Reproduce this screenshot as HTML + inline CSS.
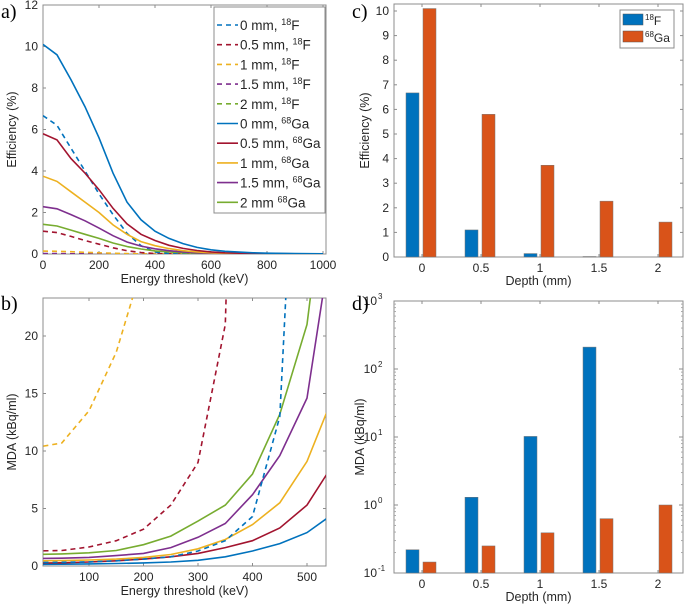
<!DOCTYPE html>
<html><head><meta charset="utf-8">
<style>
body{margin:0;background:#fff;}
svg{display:block;font-family:"Liberation Sans",Arial,sans-serif;}
.tk{font-size:12px;fill:#262626;}
.lbl{font-size:12.5px;fill:#262626;}
.pl{font-family:"Liberation Serif",serif;font-size:20px;fill:#000;}
</style></head>
<body>
<svg id="fig" width="685" height="609" viewBox="0 0 685 609"></svg>
<script>
// ---- Panel a data ----
const aX=[0,50,100,150,200,250,300,350,400,450,500,550,600,650,700,750,800,900,1000];
const aGa0=[10.1,9.6,8.4,7.1,5.6,3.9,2.5,1.65,1.1,0.75,0.5,0.32,0.2,0.13,0.09,0.06,0.04,0.02,0.01];
const aGa05=[5.8,5.5,4.6,3.9,3.1,2.2,1.45,0.95,0.65,0.42,0.27,0.17,0.1,0.06,0.04,0.03,0.02,0.01,0];
const aGa1=[3.75,3.5,3.0,2.5,2.0,1.4,0.95,0.6,0.4,0.26,0.16,0.1,0.06,0.04,0.03,0.02,0.01,0.01,0];
const aGa15=[2.28,2.18,1.9,1.6,1.25,0.88,0.58,0.38,0.25,0.16,0.1,0.06,0.04,0.03,0.02,0.01,0.01,0,0];
const aGa2=[1.43,1.35,1.15,0.95,0.75,0.53,0.36,0.24,0.15,0.1,0.06,0.04,0.03,0.02,0.01,0.01,0,0,0];
const aF0=[6.67,6.2,5.1,4.0,2.9,1.9,1.0,0.4,0.1,0.02,0,0,0,0,0,0,0,0,0];
const aF05=[1.1,1.03,0.85,0.65,0.47,0.3,0.16,0.07,0.02,0.01,0,0,0,0,0,0,0,0,0];
const aF1=[0.14,0.13,0.11,0.08,0.06,0.04,0.02,0.01,0,0,0,0,0,0,0,0,0,0,0];
const aF15=[0.02,0.02,0.01,0.01,0,0,0,0,0,0,0,0,0,0,0,0,0,0,0];
const aF2=[0,0,0,0,0,0,0,0,0,0,0,0,0,0,0,0,0,0,0];
const aXTicks=[0,200,400,600,800,1000];
const aYTicks=[0,2,4,6,8,10,12];
// ---- Panel b data ----
const bX=[0,50,100,150,200,250,300,350,400,450,500,550];
const bGa0=[0.15,0.16,0.18,0.22,0.27,0.35,0.5,0.8,1.3,1.95,2.9,4.6];
const bGa05=[0.25,0.28,0.35,0.45,0.6,0.8,1.1,1.6,2.2,3.3,5.3,9];
const bGa1=[0.45,0.47,0.52,0.6,0.75,1.0,1.5,2.3,3.6,5.5,9.1,15];
const bGa15=[0.65,0.68,0.75,0.9,1.1,1.6,2.5,3.7,6.2,9.6,14.6,30];
const bGa2=[1.0,1.05,1.15,1.35,1.85,2.6,3.9,5.3,8.0,13.2,21,40];
const bF0=[0.3,0.32,0.36,0.45,0.6,0.8,1.3,2.2,4.3,13,60,200];
const bF05=[1.3,1.35,1.65,2.2,3.2,5.3,9,21,100,300,600,900];
const bF1=[10.3,10.7,13.5,18.6,26.5,60,200,400,800,1000,1000,1000];
const bXTicks=[100,200,300,400,500];
const bYTicks=[0,5,10,15,20];
// ---- Panel c/d data ----
const depths=["0","0.5","1","1.5","2"];
const cF=[6.67,1.1,0.14,0.02,0];
const cGa=[10.1,5.8,3.73,2.27,1.42];
const cYTicks=[0,1,2,3,4,5,6,7,8,9,10];
const dF=[0.22,1.3,10.2,210,null];
const dGa=[0.145,0.25,0.39,0.63,1.0];
const dYExp=[-1,0,1,2,3];

const C={b:'#0072BD',r:'#A2142F',y:'#EDB120',p:'#7E2F8E',g:'#77AC30',o:'#D95319'};
const svg=document.getElementById('fig');
const NS='http://www.w3.org/2000/svg';
function el(t,a,p){const e=document.createElementNS(NS,t);for(const k in a)e.setAttribute(k,a[k]);(p||svg).appendChild(e);return e;}
function txt(s,a,p){const e=el('text',a,p);e.textContent=s;return e;}

function frame(x0,y0,x1,y1,name){
  const r=el('rect',{x:x0,y:y0,width:x1-x0,height:y1-y0,fill:'none',stroke:'#8c8c8c','stroke-width':1});
  
  
}
function lineChart(X,Y,sx,sy,color,dash,clip,name){
  const pts=X.map((x,i)=>sx(x).toFixed(1)+','+sy(Y[i]).toFixed(1)).join(' ');
  const p=el('polyline',{points:pts,fill:'none',stroke:color,'stroke-width':1.6,'clip-path':'url(#'+clip+')'});
  if(dash)p.setAttribute('stroke-dasharray','5,4');
  
  
}
const defs=el('defs',{});
function clipRect(id,x0,y0,x1,y1){const c=el('clipPath',{id:id},defs);el('rect',{x:x0,y:y0,width:x1-x0,height:y1-y0},c);}

// ===== Panel a =====
(function(){
  const L=43,R=326,T=5,B=254;
  const sx=v=>L+(v/1000)*(323-43);
  const sy=v=>B-(v/12)*(B-T);
  clipRect('ca',L,T,R,B);
  frame(L,T,R,B,'panel-a-axes');
  aXTicks.forEach(v=>{const x=sx(v);el('line',{x1:x,x2:x,y1:B,y2:B-3,stroke:'#8c8c8c'});el('line',{x1:x,x2:x,y1:T,y2:T+3,stroke:'#8c8c8c'});
    const t=txt(v,{x:x,y:B+15,'text-anchor':'middle',class:'tk'});});
  aYTicks.forEach(v=>{const y=sy(v);el('line',{x1:L,x2:L+3,y1:y,y2:y,stroke:'#8c8c8c'});el('line',{x1:R,x2:R-3,y1:y,y2:y,stroke:'#8c8c8c'});
    const t=txt(v,{x:L-5,y:y+4,'text-anchor':'end',class:'tk'});});
  const s=[[aF2,C.g,1,'f-2mm'],[aF15,C.p,1,'f-1.5mm'],[aF1,C.y,1,'f-1mm'],[aF05,C.r,1,'f-0.5mm'],[aF0,C.b,1,'f-0mm'],
           [aGa2,C.g,0,'ga-2mm'],[aGa15,C.p,0,'ga-1.5mm'],[aGa1,C.y,0,'ga-1mm'],[aGa05,C.r,0,'ga-0.5mm'],[aGa0,C.b,0,'ga-0mm']];
  s.forEach(q=>lineChart(aX,q[0],sx,sy,q[1],q[2],'ca','line-a-'+q[3]));
  const xl=txt('Energy threshold (keV)',{x:(L+R)/2,y:283,'text-anchor':'middle',class:'lbl'});
  
  const yl=txt('Efficiency (%)',{x:0,y:0,'text-anchor':'middle',class:'lbl',transform:'translate(16,'+((T+B)/2)+') rotate(-90)'});
  
  const pl=txt('a)',{x:1,y:18,class:'pl'});
  // legend
  const lg=el('g',{});
  
  
  el('rect',{x:214,y:7,width:111,height:206,fill:'#fff',stroke:'#8c8c8c'},lg);
  const ent=[['0 mm, ','18','F',C.b,1],['0.5 mm, ','18','F',C.r,1],['1 mm, ','18','F',C.y,1],['1.5 mm, ','18','F',C.p,1],['2 mm, ','18','F',C.g,1],
             ['0 mm, ','68','Ga',C.b,0],['0.5 mm, ','68','Ga',C.r,0],['1 mm, ','68','Ga',C.y,0],['1.5 mm, ','68','Ga',C.p,0],['2 mm ','68','Ga',C.g,0]];
  ent.forEach((e,i)=>{const y=25+i*19.7;
    const g=el('g',{},lg);
    
    
    const ln=el('line',{x1:217,x2:238,y1:y,y2:y,stroke:e[3],'stroke-width':1.6},g);
    if(e[4])ln.setAttribute('stroke-dasharray','5,4');
    const t=el('text',{x:240,y:y+5,class:'tk','font-size':'13.5px'},g);t.style.fontSize='13.5px';
    const a=el('tspan',{},t);a.textContent=e[0];
    const b=el('tspan',{dy:-5,'font-size':'9px'},t);b.textContent=e[1];
    const c=el('tspan',{dy:5},t);c.textContent=e[2];
  });
})();

// ===== Panel b =====
(function(){
  const L=43,R=326,T=298,B=566;
  const sx=v=>89+(v-100)/400*(307-89);
  const sy=v=>B-(v/20)*(B-336);
  clipRect('cb',L,T,R,B);
  frame(L,T,R,B,'panel-b-axes');
  bXTicks.forEach(v=>{const x=sx(v);el('line',{x1:x,x2:x,y1:B,y2:B-3,stroke:'#8c8c8c'});el('line',{x1:x,x2:x,y1:T,y2:T+3,stroke:'#8c8c8c'});
    const t=txt(v,{x:x,y:B+15,'text-anchor':'middle',class:'tk'});});
  bYTicks.forEach(v=>{const y=sy(v);el('line',{x1:L,x2:L+3,y1:y,y2:y,stroke:'#8c8c8c'});el('line',{x1:R,x2:R-3,y1:y,y2:y,stroke:'#8c8c8c'});
    const t=txt(v,{x:L-5,y:y+4,'text-anchor':'end',class:'tk'});});
  const s=[[bGa0,C.b,0,'ga-0mm'],[bGa05,C.r,0,'ga-0.5mm'],[bGa1,C.y,0,'ga-1mm'],[bGa15,C.p,0,'ga-1.5mm'],[bGa2,C.g,0,'ga-2mm'],
           [bF0,C.b,1,'f-0mm'],[bF05,C.r,1,'f-0.5mm'],[bF1,C.y,1,'f-1mm']];
  s.forEach(q=>lineChart(bX,q[0],sx,sy,q[1],q[2],'cb','line-b-'+q[3]));
  const xl=txt('Energy threshold (keV)',{x:(L+R)/2,y:595,'text-anchor':'middle',class:'lbl'});
  
  const yl=txt('MDA (kBq/ml)',{x:0,y:0,'text-anchor':'middle',class:'lbl',transform:'translate(16,'+((T+B)/2)+') rotate(-90)'});
  
  const pl=txt('b)',{x:1,y:310,class:'pl'});
})();

// ===== Panel c & d shared x =====
const c0=422,cStep=59;
const cx=i=>c0+i*cStep;
const bw=13;

// ===== Panel c =====
(function(){
  const L=394,R=683,T=4,B=257;
  const sy=v=>B-v*24.6;
  frame(L,T,R,B,'panel-c-axes');
  depths.forEach((d,i)=>{const x=cx(i);el('line',{x1:x,x2:x,y1:B,y2:B-3,stroke:'#8c8c8c'});el('line',{x1:x,x2:x,y1:T,y2:T+3,stroke:'#8c8c8c'});
    const t=txt(d,{x:x,y:B+15,'text-anchor':'middle',class:'tk'});});
  cYTicks.forEach(v=>{const y=sy(v);el('line',{x1:L,x2:L+3,y1:y,y2:y,stroke:'#8c8c8c'});el('line',{x1:R,x2:R-3,y1:y,y2:y,stroke:'#8c8c8c'});
    const t=txt(v,{x:L-5,y:y+4,'text-anchor':'end',class:'tk'});});
  depths.forEach((d,i)=>{
    if(cF[i]>0){const r=el('rect',{x:cx(i)-16,y:sy(cF[i]),width:bw,height:B-sy(cF[i]),fill:C.b,stroke:'#777','stroke-width':0.5});
      }
    const r2=el('rect',{x:cx(i)+1,y:sy(cGa[i]),width:bw,height:B-sy(cGa[i]),fill:C.o,stroke:'#777','stroke-width':0.5});
    
  });
  const xl=txt('Depth (mm)',{x:(L+R)/2,y:285,'text-anchor':'middle',class:'lbl'});
  
  const yl=txt('Efficiency (%)',{x:0,y:0,'text-anchor':'middle',class:'lbl',transform:'translate(369,'+((T+B)/2)+') rotate(-90)'});
  
  const pl=txt('c)',{x:352,y:18,class:'pl'});
  const lg=el('g',{});
  
  
  el('rect',{x:620,y:10,width:54,height:38,fill:'#fff',stroke:'#8c8c8c'},lg);
  [[C.b,'18','F'],[C.o,'68','Ga']].forEach((e,i)=>{const y=14+i*17;
    el('rect',{x:623,y:y,width:20,height:11,fill:e[0],stroke:'#555','stroke-width':0.5},lg);
    const t=el('text',{x:645,y:y+11,class:'tk'},lg);
    const a=el('tspan',{dy:-5,'font-size':'8px'},t);a.textContent=e[1];
    const b=el('tspan',{dy:5},t);b.textContent=e[2];
  });
})();

// ===== Panel d =====
(function(){
  const L=394,R=683,T=301,B=573;
  const dec=(B-T)/4;
  const sy=v=>B-(Math.log10(v)+1)*dec;
  frame(L,T,R,B,'panel-d-axes');
  depths.forEach((d,i)=>{const x=cx(i);el('line',{x1:x,x2:x,y1:B,y2:B-3,stroke:'#8c8c8c'});el('line',{x1:x,x2:x,y1:T,y2:T+3,stroke:'#8c8c8c'});
    const t=txt(d,{x:x,y:B+15,'text-anchor':'middle',class:'tk'});});
  dYExp.forEach(e=>{const y=sy(Math.pow(10,e));el('line',{x1:L,x2:L+4,y1:y,y2:y,stroke:'#8c8c8c'});el('line',{x1:R,x2:R-4,y1:y,y2:y,stroke:'#8c8c8c'});
    if(e<3){for(let m=2;m<10;m++){const ym=sy(m*Math.pow(10,e));el('line',{x1:L,x2:L+2,y1:ym,y2:ym,stroke:'#aaa'});el('line',{x1:R,x2:R-2,y1:ym,y2:ym,stroke:'#aaa'});}}
    const t=el('text',{x:L-17,y:y+4,'text-anchor':'end',class:'tk'});
    
    t.textContent='10';
    const s=el('text',{x:L-16,y:y-2,class:'tk','font-size':'8px'});s.style.fontSize='8px';s.textContent=e;
  });
  depths.forEach((d,i)=>{
    if(dF[i]!=null){const r=el('rect',{x:cx(i)-16,y:sy(dF[i]),width:bw,height:B-sy(dF[i]),fill:C.b,stroke:'#777','stroke-width':0.5});
      }
    const r2=el('rect',{x:cx(i)+1,y:sy(dGa[i]),width:bw,height:B-sy(dGa[i]),fill:C.o,stroke:'#777','stroke-width':0.5});
    
  });
  const xl=txt('Depth (mm)',{x:(L+R)/2,y:601,'text-anchor':'middle',class:'lbl'});
  
  const yl=txt('MDA (kBq/ml)',{x:0,y:0,'text-anchor':'middle',class:'lbl',transform:'translate(364,'+((T+B)/2)+') rotate(-90)'});
  
  const pl=txt('d)',{x:352,y:310,class:'pl'});
})();
</script>
</body></html>
